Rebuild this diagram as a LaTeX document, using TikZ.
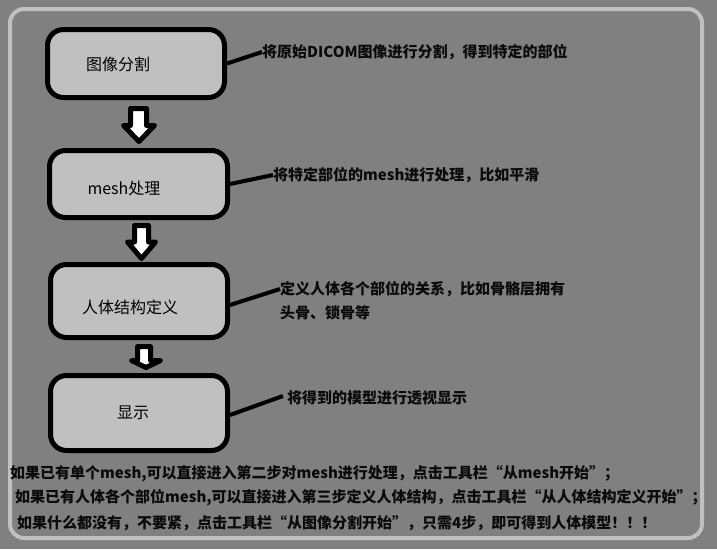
\documentclass[tikz,border=0pt]{standalone}
\usepackage{fontspec}
\newfontfamily\cjk{Noto Sans CJK SC}
\begin{document}
\begin{tikzpicture}[x=1pt,y=-1pt,
  stepbox/.style={draw=black,line width=5pt,fill=boxgray,rounded corners=16pt,
    minimum width=#1,inner sep=0pt},
  boxtext/.style={font=\cjk\fontsize{16}{18}\selectfont,inner sep=0pt,text=black},
  note/.style={font=\cjk\bfseries\fontsize{15}{17}\selectfont,inner sep=0pt,anchor=west,text=notecol},
  leader/.style={line width=4pt,black},
  flow/.style={draw=black,fill=white,line width=5pt,line join=round}]
\definecolor{bggray}{RGB}{128,128,128}
\definecolor{boxgray}{RGB}{192,192,192}
\definecolor{notecol}{RGB}{10,10,10}
% canvas and outer frame
\fill[bggray] (0,0) rectangle (717,549);
\useasboundingbox (0,0) rectangle (717,549);
\draw[boxgray,line width=4pt,rounded corners=14pt] (10,9) rectangle (702,538);

% process boxes
\node[stepbox=177pt,minimum height=68pt] (b1) at (136,63.5) {};
\node[stepbox=178pt,minimum height=67pt] (b2) at (138.5,184) {};
\node[stepbox=177pt,minimum height=73pt] (b3) at (139,301) {};
\node[stepbox=177pt,minimum height=75pt] (b4) at (139,413) {};

\node[boxtext] (t1) at (118,64) {图像分割};
\node[boxtext] (t2) at (124,188) {mesh处理};
\node[boxtext] (t3) at (130,307) {人体结构定义};
\node[boxtext] (t4) at (133,413) {显示};

% block arrows between the steps
\draw[flow] (130.5,108.5) -- (146.5,108.5) -- (146.5,125.5) -- (154.5,125.5)
  -- (139,141.5) -- (123.5,125.5) -- (130.5,125.5) -- cycle;
\draw[flow] (134.5,225.5) -- (148.5,225.5) -- (148.5,242) -- (155.5,242)
  -- (141.5,258.5) -- (127.5,242) -- (134.5,242) -- cycle;
\draw[flow] (137.5,346.5) -- (150.5,346.5) -- (150.5,360.5) -- (160.5,360.5)
  -- (146,367.5) -- (131.5,360.5) -- (137.5,360.5) -- cycle;

% notes
\node[note] (n1) at (262,52) {将原始DICOM图像进行分割，得到特定的部位};
\node[note] (n2) at (273,175) {将特定部位的mesh进行处理，比如平滑};
\node[note] (n3) at (280,289) {定义人体各个部位的关系，比如骨骼层拥有};
\node[note] (n3b) at (280,313) {头骨、锁骨等};
\node[note] (n4) at (287,398) {将得到的模型进行透视显示};

\draw[leader] (b1.east) -- (n1.west);
\draw[leader] (b2.east) -- (n2.west);
\draw[leader] ([yshift=-4pt]b3.east) -- (n3.west);
\draw[leader] ([yshift=-2pt]b4.east) -- ([xshift=-4pt,yshift=2pt]n4.west);

% usage hints
\node[note] (h1) at (10,474) {如果已有单个mesh,可以直接进入第二步对mesh进行处理，点击工具栏“从mesh开始”；};
\node[note] (h2) at (15,498) {如果已有人体各个部位mesh,可以直接进入第三步定义人体结构，点击工具栏“从人体结构定义开始”；};
\node[note] (h3) at (17,523) {如果什么都没有，不要紧，点击工具栏“从图像分割开始”，只需4步，即可得到人体模型！！！};
\end{tikzpicture}
\end{document}
